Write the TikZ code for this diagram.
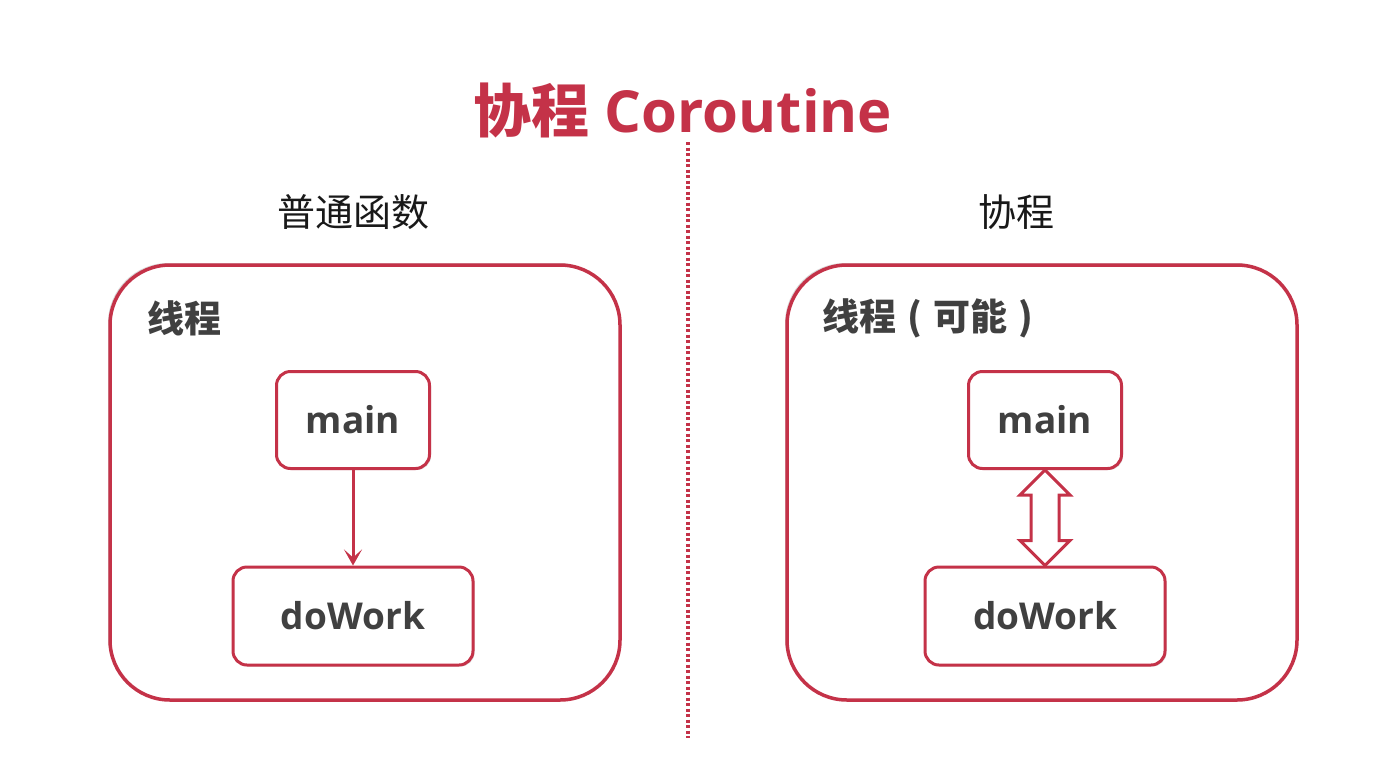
\documentclass[tikz,border=0pt]{standalone}
\usepackage{fontspec}
\setmainfont{Open Sans}
\newfontfamily\cjk{Noto Sans CJK SC}
\usetikzlibrary{arrows.meta,shadows,positioning,calc}
\definecolor{cred}{RGB}{196,50,72}
\definecolor{cgray}{RGB}{64,64,64}
\begin{document}
\begin{tikzpicture}[x=1pt,y=-1pt,>={Stealth[length=16pt,width=18pt,inset=8pt]},
    thread/.style={draw=cred,line width=3.5pt,fill=white,rounded corners=60pt,minimum width=510pt,minimum height=435pt,
        drop shadow={opacity=0.3,shadow xshift=-2pt,shadow yshift=2pt}},
    func/.style={draw=cred,line width=3pt,fill=white,rounded corners=14pt,text=cgray,inner sep=0pt,
        font=\bfseries\fontsize{37}{40}\selectfont,drop shadow={opacity=0.25,shadow xshift=1.5pt,shadow yshift=-1.5pt}},
    lab/.style={text=cgray,inner sep=0pt,anchor=west,font=\cjk\bfseries\fontsize{37}{40}\selectfont},
    swap/.style={draw=cred,line width=3pt,fill=white,line join=miter}]
    \useasboundingbox[fill=white] (0,0) rectangle (1374,764);
    % title and divider
    \node[text=cred,font=\bfseries\fontsize{58}{62}\selectfont] (title) at (683,110) {{\cjk 协程} Coroutine};
    \coordinate (divtop) at (688,142);
    \coordinate (divbot) at (688,738);
    \draw[cred,line width=3.5pt,dash pattern=on 3pt off 2.5pt] (divtop) -- (divbot);
    \node[font=\cjk\fontsize{38}{40}\selectfont,text=black!90] (hl) at (353,212) {普通函数};
    \node[font=\cjk\fontsize{38}{40}\selectfont,text=black!90] (hr) at (1016,212) {协程};
    % normal function
    \node[thread] (t1) at (365,482.5) {};
    \node[lab] (l1) at (147,318) {线程};
    \node[func,minimum width=153pt,minimum height=97pt] (m1) at (353,420) {main};
    \node[func,minimum width=240pt,minimum height=98pt] (w1) at (353,616) {doWork};
    \draw[->,cred,line width=3pt] (m1) -- (w1);
    % coroutine
    \node[thread] (t2) at (1042,482.5) {};
    \node[lab] (l2) at (822,318) {线程\makebox[37pt]{(}可能\makebox[37pt]{)}};
    \node[func,minimum width=153pt,minimum height=97pt] (m2) at (1045,420) {main};
    \node[func,minimum width=240pt,minimum height=98pt] (w2) at (1045,616) {doWork};
    \draw[swap] (m2.south) -- ++(25,25) -- ++(-11,0) -- ($(w2.north)+(14,-25)$) -- ++(11,0) -- (w2.north)
        -- ++(-25,-25) -- ++(11,0) -- ($(m2.south)+(-14,25)$) -- ++(-11,0) -- cycle;
\end{tikzpicture}
\end{document}
